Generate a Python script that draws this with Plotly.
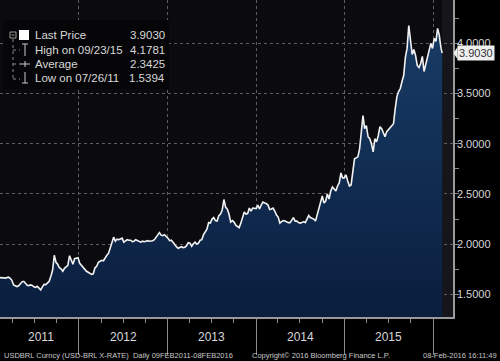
import pandas as pd
import plotly.graph_objects as go

# ---- data: USD-BRL weekly closes (Wednesdays from 09-Feb-2011) ----
rate_2011 = [1.667, 1.668, 1.665,
             1.662, 1.670, 1.672, 1.660, 1.640,
             1.595, 1.582, 1.578, 1.585,
             1.605, 1.625, 1.630, 1.610,
             1.590, 1.588, 1.595, 1.590, 1.575,
             1.570, 1.580, 1.562, 1.545,
             1.575, 1.600, 1.598, 1.612, 1.630,
             1.680, 1.740, 1.890, 1.820,
             1.800, 1.765, 1.755, 1.730,
             1.760, 1.780, 1.790, 1.885, 1.830,
             1.800, 1.855, 1.860, 1.865]
rate_2012 = [1.810, 1.790, 1.775, 1.745,
             1.730, 1.720, 1.705, 1.700, 1.705,
             1.765, 1.780, 1.820, 1.830,
             1.840, 1.835, 1.865, 1.890,
             1.910, 1.960, 2.010, 2.070, 2.030,
             2.050, 2.045, 2.055, 2.060,
             2.020, 2.035, 2.045, 2.040,
             2.040, 2.025, 2.030, 2.045, 2.035,
             2.030, 2.020, 2.030, 2.025,
             2.030, 2.035, 2.030, 2.030, 2.035,
             2.045, 2.070, 2.090, 2.115,
             2.090, 2.085, 2.095, 2.080]
rate_2013 = [2.060, 2.035, 2.040, 2.020, 1.990,
             1.975, 1.960, 1.965, 1.975,
             1.965, 1.970, 1.985, 2.015,
             2.010, 1.980, 2.005, 2.020,
             2.000, 2.010, 2.040, 2.045, 2.095,
             2.130, 2.150, 2.215, 2.210,
             2.250, 2.265, 2.235, 2.230, 2.285,
             2.300, 2.340, 2.445, 2.370,
             2.350, 2.300, 2.220, 2.235,
             2.220, 2.190, 2.175, 2.165, 2.210,
             2.280, 2.320, 2.300, 2.305,
             2.360, 2.330, 2.360, 2.360]
rate_2014 = [2.355, 2.390, 2.350, 2.390, 2.420,
             2.410, 2.405, 2.390, 2.345,
             2.350, 2.360, 2.330, 2.290,
             2.270, 2.210, 2.225, 2.235, 2.230,
             2.220, 2.215, 2.215, 2.235,
             2.265, 2.230, 2.230, 2.215,
             2.210, 2.215, 2.225, 2.215, 2.250,
             2.285, 2.265, 2.255, 2.250,
             2.230, 2.290, 2.350, 2.400,
             2.480, 2.410, 2.430, 2.500, 2.450,
             2.530, 2.570, 2.550, 2.530,
             2.580, 2.610, 2.710, 2.660, 2.660]
rate_2015 = [2.690, 2.630, 2.580, 2.590,
             2.720, 2.850, 2.860, 2.870,
             2.950, 3.130, 3.280, 3.150,
             3.180, 3.070, 3.050, 3.000, 2.920,
             3.050, 3.020, 3.080, 3.170,
             3.150, 3.100, 3.070, 3.120,
             3.140, 3.160, 3.170, 3.200, 3.350,
             3.470, 3.520, 3.550, 3.620,
             3.680, 3.860, 3.950, 4.178, 4.000,
             3.890, 3.940, 3.880, 3.780,
             3.760, 3.800, 3.870, 3.720,
             3.800, 3.850, 3.930, 4.000, 3.950]
rate_2016 = [4.050, 4.020, 4.150, 4.080,
             3.950]
last_date = "2016-02-08"
last_value = 3.903

year_labels = ["2011", "2012", "2013", "2014", "2015"]
year_label_dates = ["2011-07-27", "2012-07-01", "2013-07-02", "2014-07-02", "2015-07-02"]
y_ticks = [1.5, 2.0, 2.5, 3.0, 3.5, 4.0]

legend_names = ["Last Price", "High on 09/23/15", "Average", "Low on 07/26/11"]
legend_values = ["3.9030", "4.1781", "2.3425", "1.5394"]

footer_left = "USDBRL Curncy (USD-BRL X-RATE)  Daily 09FEB2011-08FEB2016"
footer_mid = "Copyright\u00a9 2016 Bloomberg Finance L.P."
footer_right = "08-Feb-2016 16:11:49"

values = rate_2011 + rate_2012 + rate_2013 + rate_2014 + rate_2015 + rate_2016
dates = list(pd.date_range("2011-02-09", periods=len(values), freq="7D")) + [pd.Timestamp(last_date)]
values = values + [last_value]

# ---- geometry helpers (plot area 453 x 317 px) ----
PW, PH = 453.0, 317.0
def px(x):
    return x / PW
def py(y):
    return 1 - y / PH

GRID = "#5e5e5e"
AXIS = "#9a9a9a"
TXT = "#d8d8d8"
FONT = "Liberation Sans, Arial, sans-serif"

fig = go.Figure()
fig.add_trace(go.Scatter(
    x=dates, y=values, mode="lines",
    line=dict(color="#f2f2f2", width=1.6),
    fill="tozeroy",
    fillgradient=dict(type="vertical", start=1.27, stop=4.25,
                      colorscale=[[0, "#0a1e3e"], [1, "#183c66"]]),
    hoverinfo="skip", showlegend=False,
))

shapes = []
# shaded strip after last date
shapes.append(dict(type="rect", xref="x", yref="paper", x0=last_date, x1="2016-03-24",
                   y0=0, y1=1, fillcolor="#16161a", line=dict(width=0), layer="below"))
# legend box
shapes.append(dict(type="rect", xref="paper", yref="paper", x0=px(3), x1=px(169),
                   y0=py(89), y1=py(20), fillcolor="#060608", line=dict(width=0), layer="above"))
SYM = "#c8c8c8"
def seg(x0, y0, x1, y1, dash="solid", color=SYM, w=1):
    shapes.append(dict(type="line", xref="paper", yref="paper", x0=px(x0), y0=py(y0),
                       x1=px(x1), y1=py(y1), line=dict(color=color, width=w, dash=dash),
                       layer="above"))
# collapse box
shapes.append(dict(type="rect", xref="paper", yref="paper", x0=px(10), x1=px(16),
                   y0=py(38), y1=py(32), line=dict(color="#9a9a9a", width=1),
                   fillcolor="rgba(0,0,0,0)", layer="above"))
seg(11.5, 35, 14.5, 35, color="#9a9a9a")
# white square
shapes.append(dict(type="rect", xref="paper", yref="paper", x0=px(19), x1=px(29),
                   y0=py(40), y1=py(30), fillcolor="#ffffff", line=dict(width=0), layer="above"))
# tree
seg(13, 39, 13, 79, dash="dot", color="#8a8a8a")
for yy in (50, 64, 79):
    seg(13, yy, 20, yy, dash="dot", color="#8a8a8a")
# high marker (T)
seg(22, 44, 28, 44); seg(25, 44, 25, 56)
# average marker (-+-)
seg(20, 64, 30, 64); seg(25, 61, 25, 67)
# low marker (inverted T)
seg(25, 72, 25, 83); seg(22, 83, 28, 83)
# last price pointer
shapes.append(dict(type="path", xref="paper", yref="y",
                   path=f"M {px(453.5)} {last_value} L {px(457.5)} {last_value + 0.06} "
                        f"L {px(457.5)} {last_value - 0.06} Z",
                   fillcolor="#f0f0f0", line=dict(width=0), layer="above"))

annotations = []
leg_y = [35, 50, 64, 78]
for name, val, yy in zip(legend_names, legend_values, leg_y):
    annotations.append(dict(xref="paper", yref="paper", x=px(33), y=py(yy), text=name,
                            xanchor="left", yanchor="middle", showarrow=False,
                            font=dict(family=FONT, size=11.5, color=TXT)))
    annotations.append(dict(xref="paper", yref="paper", x=px(167), y=py(yy), text=val,
                            xanchor="right", yanchor="middle", showarrow=False,
                            font=dict(family=FONT, size=11.5, color=TXT)))
for lab, d in zip(year_labels, year_label_dates):
    annotations.append(dict(xref="x", yref="paper", x=d, y=py(337), text=lab,
                            xanchor="center", yanchor="middle", showarrow=False,
                            font=dict(family=FONT, size=12, color=TXT)))
annotations.append(dict(xref="paper", yref="paper", x=px(2), y=py(355), text=footer_left,
                        xanchor="left", yanchor="middle", showarrow=False,
                        font=dict(family=FONT, size=7.5, color="#c8c8c8")))
annotations.append(dict(xref="paper", yref="paper", x=px(250), y=py(355), text=footer_mid,
                        xanchor="left", yanchor="middle", showarrow=False,
                        font=dict(family=FONT, size=7.5, color="#c8c8c8")))
annotations.append(dict(xref="paper", yref="paper", x=px(499), y=py(355), text=footer_right,
                        xanchor="right", yanchor="middle", showarrow=False,
                        font=dict(family=FONT, size=7.5, color="#c8c8c8")))
# last price tag
annotations.append(dict(xref="paper", yref="y", x=px(457), y=last_value, text="3.9030",
                        xanchor="left", yanchor="middle", showarrow=False,
                        bgcolor="#f0f0f0", borderpad=1,
                        font=dict(family=FONT, size=11, color="#333333")))

fig.update_layout(
    width=500, height=361,
    margin=dict(l=0, r=47, t=0, b=44, autoexpand=False),
    paper_bgcolor="#000000", plot_bgcolor="#0b0b0f",
    showlegend=False, hovermode=False,
    shapes=shapes, annotations=annotations,
    xaxis=dict(
        type="date", range=["2011-02-09", "2016-03-23 12:00"],
        tick0="2012-01-01", dtick="M12", ticks="outside", ticklen=36, tickwidth=1,
        tickcolor="#8a8a8a", showticklabels=False,
        showgrid=True, gridcolor=GRID, griddash="dot", gridwidth=1,
        showline=True, linecolor=AXIS, linewidth=1.5, zeroline=False,
        minor=dict(dtick="M3", tick0="2011-01-01", ticks="outside", ticklen=4,
                   tickcolor="#8a8a8a", showgrid=False),
    ),
    yaxis=dict(
        side="right", range=[1.2749, 4.432],
        tickvals=y_ticks, tickformat=".4f", tickprefix="\u25b8",
        ticks="", showticklabels=True,
        tickfont=dict(family=FONT, size=11, color=TXT),
        showgrid=True, gridcolor=GRID, griddash="dot", gridwidth=1,
        showline=True, linecolor=AXIS, linewidth=1.5, zeroline=False,
        minor=dict(dtick=0.25, tick0=1.25, ticks="outside", ticklen=4,
                   tickcolor="#8a8a8a", showgrid=False),
    ),
)

fig.write_html("out.html", config={"displayModeBar": False},
               post_script="document.body.style.margin='0';document.body.style.overflow='hidden';")
